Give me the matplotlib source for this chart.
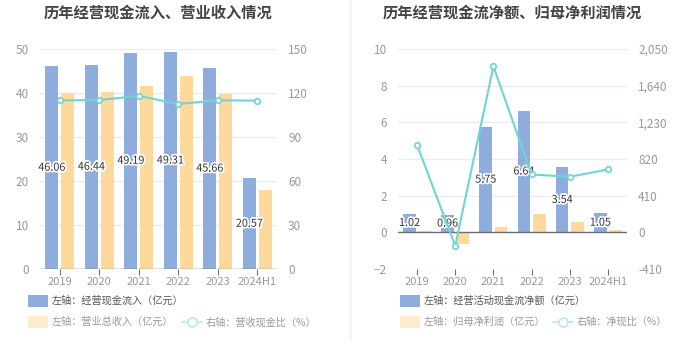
import matplotlib
matplotlib.use("Agg")
import matplotlib.pyplot as plt
import matplotlib.patheffects as pe
from matplotlib.lines import Line2D
import numpy as np

plt.rcParams['font.family'] = ['Noto Sans CJK SC', 'DejaVu Sans']

years = ["2019", "2020", "2021", "2022", "2023", "2024H1"]

# left chart
cash_in = [46.06, 46.44, 49.19, 49.31, 45.66, 20.57]
revenue = [40.0, 40.2, 41.67, 43.86, 39.77, 17.95]
cash_ratio = [115.0, 115.2, 118.0, 112.5, 115.0, 114.8]

# right chart
net_cash = [1.02, 0.96, 5.75, 6.64, 3.54, 1.05]
net_profit = [0.09, -0.66, 0.27, 1.0, 0.55, 0.15]
net_ratio = [976, -150, 1855, 647, 621, 703]

BLUE = "#8eaddc"
ORANGE = "#ffd89c"
TEAL = "#6fd4d4"
GRID = "#e6ebf5"
TICK = "#999999"

W, H = 699, 359
fig = plt.figure(figsize=(W / 100, H / 100), dpi=100)


def draw(rect, bars1, bars2, line, ylim, yticks, rylim, rticks, rlabels, title):
    ax = fig.add_axes(rect)
    x = np.arange(len(years))
    ax.bar(x - 0.2, bars1, width=0.33, color=BLUE, zorder=2)
    ax.bar(x + 0.2, bars2, width=0.33, color=ORANGE, zorder=2)
    for xi, v in zip(x, bars1):
        ax.text(xi - 0.2, v / 2, f"{v:.2f}", ha="center", va="center", fontsize=7.8,
                color="#333333", zorder=5,
                path_effects=[pe.withStroke(linewidth=2.5, foreground="white")])
    ax.set_xlim(-0.5, len(years) - 0.5)
    ax.set_ylim(*ylim)
    ax.set_yticks(yticks)
    ax.set_xticks(x)
    ax.set_xticklabels(years)
    ax.grid(axis="y", color=GRID, linewidth=1, zorder=0)
    for s in ["top", "right", "left", "bottom"]:
        ax.spines[s].set_visible(False)
    ax.axhline(0, color="#6e7079", linewidth=1, zorder=3)
    ax.tick_params(axis="y", length=0, colors=TICK, labelsize=8.5, pad=8)
    ax.tick_params(axis="x", length=4, color="#6e7079", colors=TICK, labelsize=8, pad=2)

    ax2 = ax.twinx()
    ax2.plot(x, line, color=TEAL, linewidth=1.5, marker="o", markersize=4,
             markerfacecolor="white", markeredgecolor=TEAL, markeredgewidth=1.2, zorder=4)
    ax2.set_ylim(*rylim)
    ax2.set_yticks(rticks)
    ax2.set_yticklabels(rlabels)
    for s in ["top", "right", "left", "bottom"]:
        ax2.spines[s].set_visible(False)
    ax2.tick_params(axis="y", length=0, colors=TICK, labelsize=8.5, pad=8)

    cx = rect[0] + rect[2] / 2
    fig.text(cx, 1 - 13 / H, title, ha="center", va="center", fontsize=11,
             fontweight="bold", color="#444444")
    return ax


draw([40 / W, 1 - 269 / H, 237 / W, 220 / H], cash_in, revenue, cash_ratio,
     (0, 50), [0, 10, 20, 30, 40, 50], (0, 150), [0, 30, 60, 90, 120, 150],
     ["0", "30", "60", "90", "120", "150"], "历年经营现金流入、营业收入情况")
draw([398 / W, 1 - 269 / H, 229 / W, 220 / H], net_cash, net_profit, net_ratio,
     (-2, 10), [-2, 0, 2, 4, 6, 8, 10], (-410, 2050), [-410, 0, 410, 820, 1230, 1640, 2050],
     ["-410", "0", "410", "820", "1,230", "1,640", "2,050"], "历年经营现金流净额、归母净利润情况")

# divider
fig.add_artist(Line2D([350 / W, 350 / W], [1 - 340 / H, 1], color="#eeeeee", linewidth=1))


def legend_item(kind, xpos, y, color, label, tcolor, textx):
    if kind == "patch":
        fig.add_artist(plt.Rectangle((xpos / W, 1 - (y + 6) / H), 20 / W, 12 / H,
                                     transform=fig.transFigure, color=color, linewidth=0))
    else:
        fig.add_artist(Line2D([xpos / W, (xpos + 20) / W], [1 - y / H, 1 - y / H],
                              color=color, linewidth=1.2))
        fig.add_artist(Line2D([(xpos + 10) / W], [1 - y / H], marker="o", markersize=6.5,
                              markerfacecolor="white", markeredgecolor=color, markeredgewidth=1.2))
    fig.text(textx / W, 1 - y / H, label, ha="left", va="center", fontsize=7.3, color=tcolor)


legend_item("patch", 28, 301, BLUE, "左轴：经营现金流入（亿元）", "#555555", 52)
legend_item("patch", 28, 322, "#ffeccc", "左轴：营业总收入（亿元）", "#999999", 52)
legend_item("line", 182, 322, "#b3ecec", "右轴：营收现金比（%）", "#999999", 206)
legend_item("patch", 400, 301, BLUE, "左轴：经营活动现金流净额（亿元）", "#555555", 424)
legend_item("patch", 400, 322, "#ffeccc", "左轴：归母净利润（亿元）", "#999999", 424)
legend_item("line", 553, 322, "#b3ecec", "右轴：净现比（%）", "#999999", 577)

fig.savefig("out.png", dpi=100, facecolor="white")
